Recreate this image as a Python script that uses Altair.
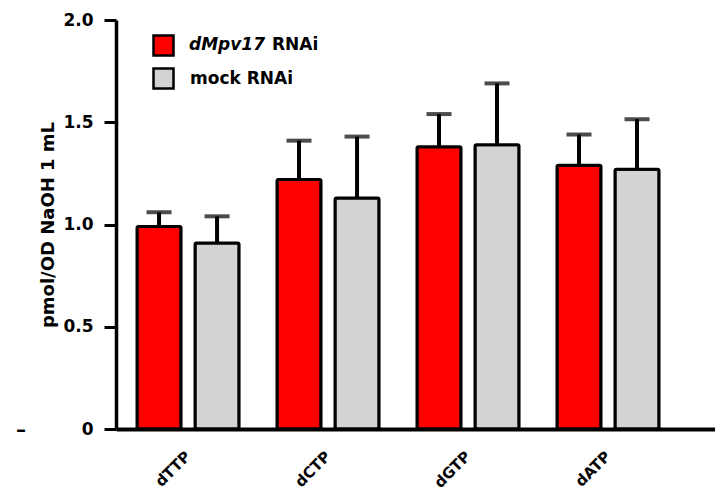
import altair as alt
import pandas as pd

categories = ["dTTP", "dCTP", "dGTP", "dATP"]
groups = ["dMpv17 RNAi", "mock RNAi"]
mpv17_mean = [0.99, 1.22, 1.38, 1.29]
mpv17_err = [0.07, 0.19, 0.16, 0.15]
mock_mean = [0.91, 1.13, 1.39, 1.27]
mock_err = [0.13, 0.30, 0.30, 0.245]
colors = ["#ff0000", "#d3d3d3"]

rows = []
for i, c in enumerate(categories):
    rows.append({"cat": c, "group": groups[0], "mean": mpv17_mean[i], "upper": mpv17_mean[i] + mpv17_err[i]})
    rows.append({"cat": c, "group": groups[1], "mean": mock_mean[i], "upper": mock_mean[i] + mock_err[i]})
df = pd.DataFrame(rows)
cat_df = pd.DataFrame({"cat": categories})

FONT = "DejaVu Sans"

xscale = alt.Scale(domain=categories, paddingInner=0.271, paddingOuter=0.275, align=0.273)
x = alt.X("cat:N", sort=categories, title=None, scale=xscale,
          axis=alt.Axis(labels=False, ticks=False, domainColor="black", domainWidth=4))
xo = alt.XOffset("group:N", sort=groups, scale=alt.Scale(paddingInner=0.241, paddingOuter=0))

base = alt.Chart(df)

bars = base.mark_bar(stroke="black", strokeWidth=3, cornerRadius=1.5).encode(
    x=x,
    xOffset=xo,
    y=alt.Y("mean:Q", title="pmol/OD NaOH 1 mL",
            scale=alt.Scale(domain=[0, 2], nice=False),
            axis=alt.Axis(values=[0, 0.5, 1, 1.5, 2],
                          labelExpr="datum.value == 0 ? '0' : format(datum.value, '.1f')",
                          labelFont=FONT, labelFontSize=17, labelFontWeight="bold", labelColor="black",
                          tickSize=12, tickWidth=3, tickColor="black", domainColor="black", domainWidth=3.5,
                          labelPadding=11, grid=False,
                          titleFont=FONT, titleFontSize=18, titleFontWeight="bold", titleColor="black",
                          titlePadding=5)),
    color=alt.Color("group:N", sort=groups, scale=alt.Scale(domain=groups, range=colors),
                    legend=alt.Legend(orient="none", legendX=36, legendY=14, title=None,
                                      symbolType="square", symbolSize=400, symbolStrokeColor="black",
                                      symbolStrokeWidth=2.5, labelOffset=15, rowPadding=2,
                                      labelFont=FONT, labelFontSize=17, labelFontWeight="bold",
                                      labelColor="black", padding=0,
                                      labelExpr="datum.label == 'dMpv17 RNAi' ? '' : datum.label")),
)

rules = base.mark_rule(color="black", strokeWidth=4).encode(
    x=x, xOffset=xo, y="mean:Q", y2="upper:Q"
)
caps = base.mark_tick(color="black", thickness=4, size=25).encode(
    x=x, xOffset=xo, y="upper:Q"
)

xlabels = alt.Chart(cat_df).mark_text(
    font=FONT, fontSize=15, fontWeight="bold", align="right", baseline="middle", color="black",
    angle=alt.ExprRef(expr="-45"),
).encode(x=alt.X("cat:N", sort=categories, scale=xscale, title=None), text="cat:N",
         y=alt.value(434))

leg_italic = alt.Chart(pd.DataFrame({"t": ["dMpv17"]})).mark_text(
    font=FONT, fontSize=17, fontWeight="bold", fontStyle="italic", align="left", baseline="middle", color="black"
).encode(text="t:N", x=alt.value(73), y=alt.value(25))
leg_rnai = alt.Chart(pd.DataFrame({"t": ["RNAi"]})).mark_text(
    font=FONT, fontSize=17, fontWeight="bold", align="left", baseline="middle", color="black"
).encode(text="t:N", x=alt.value(156), y=alt.value(25))
dash = alt.Chart(pd.DataFrame({"t": ["–"]})).mark_text(
    font=FONT, fontSize=20, fontWeight="bold", align="center", baseline="middle", color="black"
).encode(text="t:N", x=alt.value(-95), y=alt.value(410))

chart = alt.layer(bars, rules, caps, xlabels, leg_italic, leg_rnai, dash).properties(
    width=599, height=409,
    autosize=alt.AutoSizeParams(type="none"),
    padding={"left": 116, "top": 20, "right": 0, "bottom": 68},
    background="white",
).configure_view(stroke=None)

chart.save("out.html", embed_options={"renderer": "svg", "actions": False})
